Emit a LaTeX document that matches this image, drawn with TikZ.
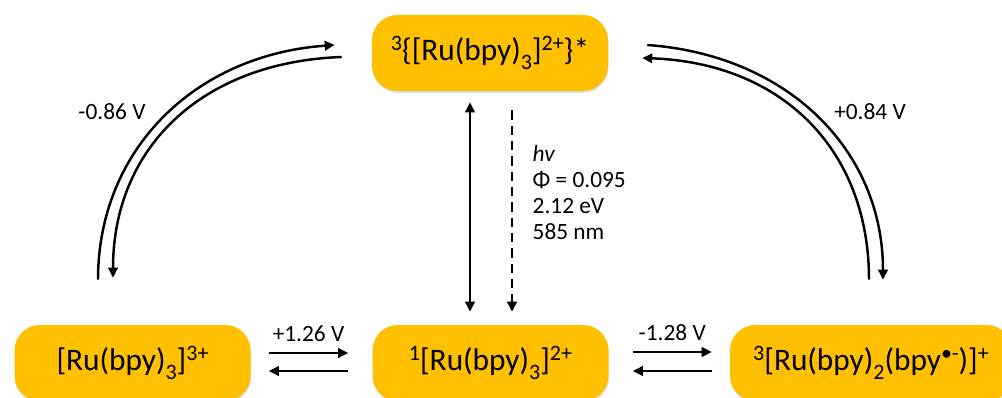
\documentclass[tikz,border=0pt]{standalone}
\usepackage{fontspec}
\setmainfont{Carlito}
\usetikzlibrary{arrows.meta,calc,shadows}
\definecolor{boxgold}{HTML}{FFC000}
\newcommand{\sups}[1]{\raisebox{0.3em}{\fontsize{16.5}{16.5}\selectfont #1}}
\newcommand{\subs}[1]{\raisebox{-0.3em}{\fontsize{16.5}{16.5}\selectfont #1}}
\tikzset{
  species/.style = {fill=boxgold, rounded corners=19pt, minimum height=57pt,
    minimum width=177pt, inner sep=0pt, font=\fontsize{23.5}{27}\selectfont,
    drop shadow={opacity=0.25, shadow xshift=0.4pt, shadow yshift=-1.4pt}},
  arr/.style = {line width=1.85pt, -{Triangle[length=7.5pt,width=7pt]}},
  lbl/.style = {font=\fontsize{17.5}{19.3}\selectfont},
}
\begin{document}
\begin{tikzpicture}[x=0.75pt, y=-0.75pt]
\useasboundingbox (0,0) rectangle (1002,398);
\clip (0,0) rectangle (1002,398);

% the four states
\node[species] (exc) at (490,53) {\sups{3}\{[Ru(bpy)\subs{3}]\sups{2+}\}*};
\node[species] (ox) at (132.5,363) {[Ru(bpy)\subs{3}]\sups{3+}};
\node[species] (gs) at (490.5,363) {\sups{1}[Ru(bpy)\subs{3}]\sups{2+}};
\node[species, minimum width=211.5pt] (red) at (871,363) {\sups{3}[Ru(bpy)\subs{2}(bpy\sups{•-})]\sups{+}};

% excitation and emission
\draw[arr, {Triangle[length=7.5pt,width=7pt]}-{Triangle[length=7.5pt,width=7pt]}]
  ($(exc.south)+(-20,11)$) -- ($(gs.north)+(-20.5,-13)$);
\draw[arr, dash pattern=on 7pt off 4.5pt] ($(exc.south)+(22,19)$) -- ($(gs.north)+(21.5,-13)$);
\node[lbl, align=left, anchor=north west] (photo) at (528,141)
  {\textit{hv}\\Φ = 0.095\\2.12 eV\\585 nm};

% ground state equilibria
\draw[arr] ($(ox.east)+(18,-10)$) -- node[lbl, above=4.5pt] (e1) {+1.26 V} ($(gs.west)+(-24,-10)$);
\draw[arr] ($(gs.west)+(-24,8)$) -- ($(ox.east)+(18,8)$);
\draw[arr] ($(gs.east)+(24,-11)$) -- node[lbl, above=4pt] (e2) {-1.28 V} ($(red.west)+(-18,-11)$);
\draw[arr] ($(red.west)+(-18,8)$) -- ($(gs.east)+(24,8)$);

% excited state cycles
\draw[arr] ($(ox.north)+(-34.5,-45)$) .. controls +(0,-130) and +(-140,10) .. ($(exc.west)+(-37,-8)$);
\draw[arr] ($(exc.west)+(-30,4)$) .. controls +(-140,5) and +(0,-130) .. ($(ox.north)+(-19.5,-47)$);
\draw[arr] ($(exc.east)+(39,-8)$) .. controls +(140,10) and +(0,-130) .. ($(red.north)+(12,-45)$);
\draw[arr] ($(red.north)+(-2,-45)$) .. controls +(0,-130) and +(140,5) .. ($(exc.east)+(34,5)$);
\node[lbl] (e3) at (112,112) {-0.86 V};
\node[lbl] (e4) at (870,112) {+0.84 V};
\end{tikzpicture}
\end{document}
